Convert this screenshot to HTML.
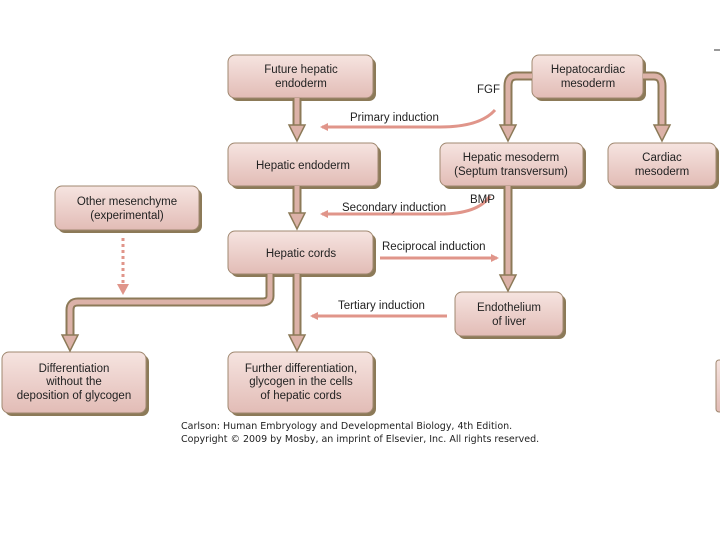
<!DOCTYPE html>
<html><head><style>
html,body{margin:0;padding:0;background:#fff;width:720px;height:540px;overflow:hidden}
svg{display:block}
text{font-family:"Liberation Sans",sans-serif;font-size:11.5px;fill:#222}
.c{text-anchor:middle}
.cp{font-family:"DejaVu Sans",sans-serif;font-size:9.5px;fill:#222}
</style></head><body>
<svg width="720" height="540" viewBox="0 0 720 540">
<defs>
<linearGradient id="g" x1="0" y1="0" x2="0" y2="1">
<stop offset="0" stop-color="#f6e4e0"/><stop offset="1" stop-color="#e2bcb6"/>
</linearGradient>
<marker id="ah" markerWidth="8" markerHeight="8" refX="6" refY="4" orient="auto" markerUnits="userSpaceOnUse">
<path d="M0,0 L8,4 L0,8 z" fill="#e0958a"/></marker>
</defs>
<g id="boxes">
<g fill="#8c7a58">
<rect x="231" y="58" width="145" height="43" rx="7"/>
<rect x="231" y="146" width="150" height="43" rx="7"/>
<rect x="231" y="234" width="145" height="43" rx="7"/>
<rect x="58" y="189" width="144" height="44" rx="7"/>
<rect x="535" y="58" width="111" height="43" rx="7"/>
<rect x="443" y="146" width="143" height="43" rx="7"/>
<rect x="611" y="146" width="108" height="43" rx="7"/>
<rect x="458" y="295" width="108" height="44" rx="7"/>
<rect x="5" y="355" width="144" height="61" rx="7"/>
<rect x="231" y="355" width="145" height="61" rx="7"/>
</g>
<g fill="url(#g)" stroke="#a08870" stroke-width="1">
<rect x="228" y="55" width="145" height="43" rx="7"/>
<rect x="228" y="143" width="150" height="43" rx="7"/>
<rect x="228" y="231" width="145" height="43" rx="7"/>
<rect x="55" y="186" width="144" height="44" rx="7"/>
<rect x="532" y="55" width="111" height="43" rx="7"/>
<rect x="440" y="143" width="143" height="43" rx="7"/>
<rect x="608" y="143" width="108" height="43" rx="7"/>
<rect x="455" y="292" width="108" height="44" rx="7"/>
<rect x="2" y="352" width="144" height="61" rx="7"/>
<rect x="228" y="352" width="145" height="61" rx="7"/>
<rect x="716" y="360" width="10" height="52" rx="3"/>
</g>
</g>
<line x1="714" y1="50" x2="720" y2="50" stroke="#333"/>
<!-- block arrows -->
<g fill="none" stroke-linejoin="round">
<g stroke="#8c7a58" stroke-width="9">
<path d="M297 98 V126"/><path d="M297 186 V214"/><path d="M297 274 V336"/>
<path d="M270 274 V296 Q270 302 262 302 H78 Q70 302 70 310 V336"/>
<path d="M532 76 H516 Q508 76 508 86 V126"/>
<path d="M643 76 H654 Q662 76 662 86 V126"/>
<path d="M508 186 V276"/>
</g>
<g stroke="#dcb2a8" stroke-width="5">
<path d="M297 98 V127"/><path d="M297 186 V215"/><path d="M297 274 V337"/>
<path d="M270 274 V296 Q270 302 262 302 H78 Q70 302 70 310 V337"/>
<path d="M532 76 H516 Q508 76 508 86 V127"/>
<path d="M643 76 H654 Q662 76 662 86 V127"/>
<path d="M508 186 V277"/>
</g>
</g>
<g fill="#dcb2a8" stroke="#8c7a58" stroke-width="1.5">
<path d="M289 125 H305 L297 141 z"/><path d="M289 213 H305 L297 229 z"/><path d="M289 335 H305 L297 351 z"/>
<path d="M62 335 H78 L70 351 z"/><path d="M500 125 H516 L508 141 z"/><path d="M654 125 H670 L662 141 z"/>
<path d="M500 275 H516 L508 291 z"/>
</g>
<!-- induction arrows -->
<g fill="none" stroke="#e0958a" stroke-width="3" marker-end="url(#ah)">
<path d="M495 110 Q480 127 440 127 H322"/>
<path d="M490 196 Q478 214 440 214 H322"/>
<path d="M380 258 H497"/>
<path d="M447 316 H312"/>
</g>
<path d="M123 238 V284" stroke="#e0958a" stroke-width="3" stroke-dasharray="3,3" fill="none"/>
<path d="M117 284 L123 295 L129 284 z" fill="#e0958a"/>
<!-- labels -->
<text class="c" x="301" y="73">Future hepatic</text><text class="c" x="301" y="87">endoderm</text>
<text class="c" x="303" y="169">Hepatic endoderm</text>
<text class="c" x="301" y="257">Hepatic cords</text>
<text class="c" x="127" y="205">Other mesenchyme</text><text class="c" x="127" y="219">(experimental)</text>
<text class="c" x="588" y="73">Hepatocardiac</text><text class="c" x="588" y="87">mesoderm</text>
<text class="c" x="511" y="161">Hepatic mesoderm</text><text class="c" x="511" y="175">(Septum transversum)</text>
<text class="c" x="662" y="161">Cardiac</text><text class="c" x="662" y="175">mesoderm</text>
<text class="c" x="509" y="311">Endothelium</text><text class="c" x="509" y="325">of liver</text>
<text class="c" x="74" y="372">Differentiation</text><text class="c" x="74" y="385">without the</text><text class="c" x="74" y="399">deposition of glycogen</text>
<text class="c" x="301" y="372">Further differentiation,</text><text class="c" x="301" y="385">glycogen in the cells</text><text class="c" x="301" y="399">of hepatic cords</text>
<text x="477" y="93">FGF</text>
<text x="350" y="121">Primary induction</text>
<text x="470" y="203">BMP</text>
<text x="342" y="211">Secondary induction</text>
<text x="382" y="250">Reciprocal induction</text>
<text x="338" y="309">Tertiary induction</text>
<text class="cp" x="181" y="429">Carlson: Human Embryology and Developmental Biology, 4th Edition.</text>
<text class="cp" x="181" y="442">Copyright © 2009 by Mosby, an imprint of Elsevier, Inc. All rights reserved.</text>
</svg>
</body></html>
